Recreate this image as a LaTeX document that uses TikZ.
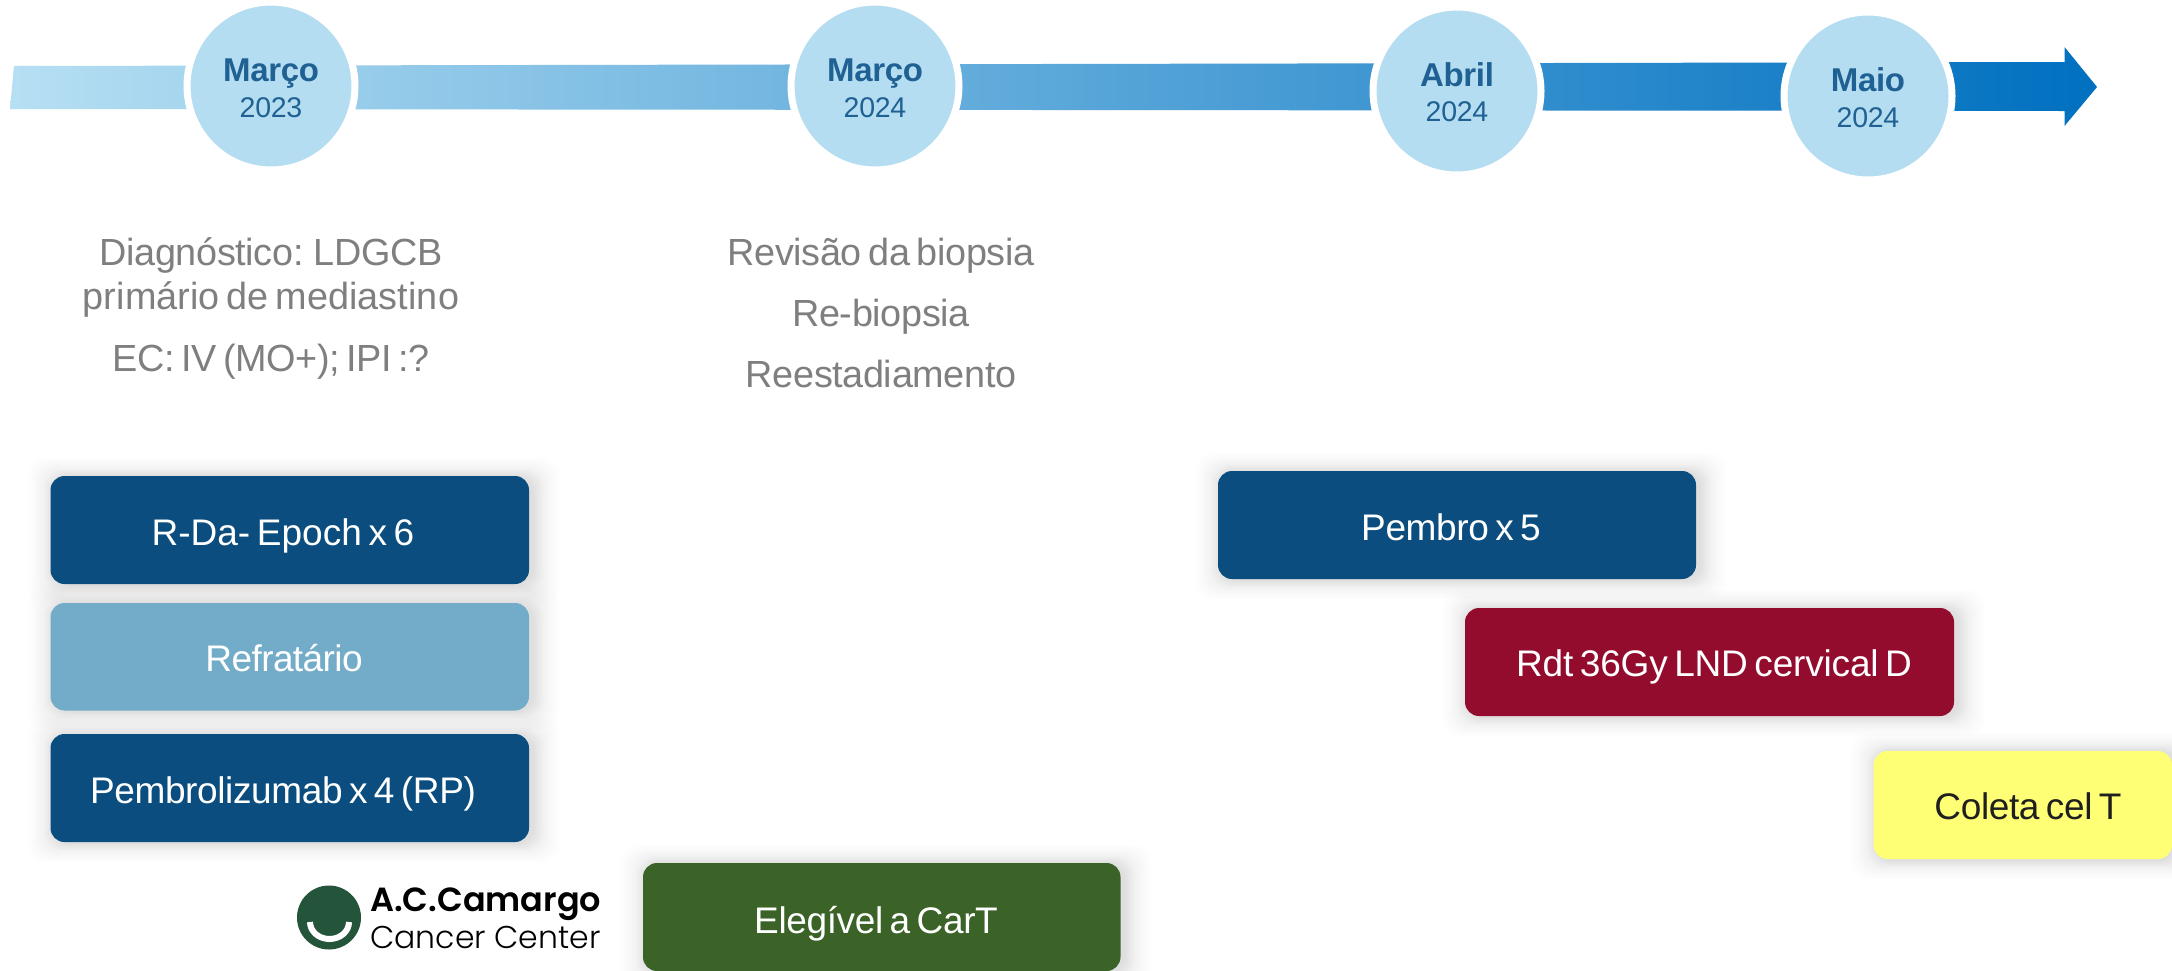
\documentclass[tikz,border=0pt]{standalone}
\usepackage{fontspec}
\setmainfont[WordSpace=0.65,LetterSpace=-1]{Liberation Sans}
\newfontfamily\logofont{Poppins SemiBold}
\newfontfamily\logofontlight{Poppins Light}
\definecolor{bandL}{HTML}{B6DFF3}
\definecolor{bandR}{HTML}{0070C0}
\definecolor{disc}{HTML}{B5DDF2}
\definecolor{disctext}{HTML}{1F6193}
\definecolor{note}{HTML}{7F7F7F}
\definecolor{navy}{HTML}{0A4D7E}
\definecolor{sky}{HTML}{73ACC8}
\definecolor{leaf}{HTML}{3B6327}
\definecolor{wine}{HTML}{930C2E}
\definecolor{lemon}{HTML}{FFFF75}
\definecolor{logogreen}{HTML}{24543A}
\tikzset{
  x=1pt,y=-1pt,
  datedisc/.style={circle,fill=disc,draw=white,line width=7pt,minimum size=168pt,inner sep=0pt,outer sep=0pt},
  month/.style={anchor=base,text=disctext,font=\fontsize{33}{36}\selectfont\bfseries,inner sep=0pt},
  yeartxt/.style={anchor=base,text=disctext,font=\fontsize{28.5}{32}\selectfont,inner sep=0pt},
  notetxt/.style={anchor=base,text=note,font=\fontsize{37.8}{40}\selectfont,inner sep=0pt},
  phase/.style={rectangle,rounded corners=14pt,inner sep=0pt,outer sep=0pt},
  phasetxt/.style={anchor=base,text=white,font=\fontsize{37}{40}\selectfont,inner sep=0pt},
  softshade/.style={fill=black,fill opacity=.008,rounded corners=18pt},
}
% x1 y1 x2 y2
\newcommand\softshadow[4]{%
  \foreach \s in {1,2,3,4,5,6,7,8,9,10,12,14,16,18,21,24}{%
    \fill[softshade] ({#1-\s*1.1+4},{#2-\s*.8+1}) rectangle ({#3+\s*1.1+4},{#4+\s*.8+1});
  }}
\begin{document}
\begin{tikzpicture}
\useasboundingbox (0,0) rectangle (2172,970);
\clip (0,0) rectangle (2172,970);
\fill[white] (0,0) rectangle (2172,970);

% timeline arrow
\shade[left color=bandL,right color=bandR]
  (14,66) -- (2064.5,62) -- (2064.5,47) -- (2097,87) -- (2064.5,126) -- (2064.5,111) -- (10,109) -- cycle;

% date discs
\node[datedisc] (d1) at (271,86) {};
\node[datedisc] (d2) at (875,86) {};
\node[datedisc] (d3) at (1457,91) {};
\node[datedisc] (d4) at (1868,96) {};
\node[month] (m1) at (271,81) {Março};
\node[yeartxt] (y1) at (271,117) {2023};
\node[month] (m2) at (875,81) {Março};
\node[yeartxt] (y2) at (875,117) {2024};
\node[month] (m3) at (1457,86) {Abril};
\node[yeartxt] (y3) at (1457,121) {2024};
\node[month] (m4) at (1868,91) {Maio};
\node[yeartxt] (y4) at (1868,127) {2024};

% notes
\node[notetxt] (n1) at (271,265) {Diagnóstico: LDGCB};
\node[notetxt] (n2) at (271,309) {\addfontfeature{LetterSpace=0.2}primário de mediastino};
\node[notetxt] (n3) at (271,371) {EC: IV (MO+); IPI :?};
\node[notetxt] (n4) at (881,265) {Revisão da biopsia};
\node[notetxt] (n5) at (881,326) {Re-biopsia};
\node[notetxt] (n6) at (881,387) {Reestadiamento};

% shadows
\softshadow{50.5}{476}{529}{584}
\softshadow{50.5}{603}{529}{710.5}
\softshadow{50.5}{734}{529}{842}
\softshadow{643}{863}{1120.5}{971}
\softshadow{1218}{471}{1696}{579}
\softshadow{1465}{608}{1954}{716}
\softshadow{1873.5}{751}{2172}{859}

% phases
\node[phase,fill=navy,minimum width=478.5pt,minimum height=108pt] (b1) at (289.75,530) {};
\node[phase,fill=sky,minimum width=478.5pt,minimum height=107.5pt] (b2) at (289.75,656.75) {};
\node[phase,fill=navy,minimum width=478.5pt,minimum height=108pt] (b3) at (289.75,788) {};
\node[phase,fill=leaf,minimum width=477.5pt,minimum height=108pt] (b4) at (881.75,917) {};
\node[phase,fill=navy,minimum width=478pt,minimum height=108pt] (b5) at (1457,525) {};
\node[phase,fill=wine,minimum width=489pt,minimum height=108pt] (b6) at (1709.5,662) {};
\node[phase,fill=lemon,minimum width=298.5pt,minimum height=108pt] (b7) at (2022.75,805) {};

\node[phasetxt] (t1) at (283,545) {\addfontfeature{LetterSpace=0}R-Da- Epoch x 6};
\node[phasetxt] (t2) at (284,671) {\addfontfeature{LetterSpace=-1.6}Refratário};
\node[phasetxt] (t3) at (283,803) {Pembrolizumab x 4 (RP)};
\node[phasetxt] (t4) at (876,933) {Elegível a CarT};
\node[phasetxt] (t5) at (1451,540) {Pembro x 5};
\node[phasetxt] (t6) at (1714,676) {\addfontfeature{LetterSpace=-0.5}Rdt 36Gy LND cervical D};
\node[phasetxt,text=black!88] (t7) at (2028,819) {Coleta cel T};

% logo
\fill[logogreen] (329,917.5) circle[radius=32];
\draw[white,line width=6pt] (310,922) arc[start angle=180,end angle=0,x radius=19.5,y radius=17];
\node[anchor=base west,inner sep=0pt,font=\logofont\fontsize{33.5}{36}\selectfont] (l1) at (370,911.5) {A.C.Camargo};
\node[anchor=base west,inner sep=0pt,font=\logofontlight\fontsize{31.5}{36}\selectfont] (l2) at (370,948) {Cancer Center};
\end{tikzpicture}
\end{document}
